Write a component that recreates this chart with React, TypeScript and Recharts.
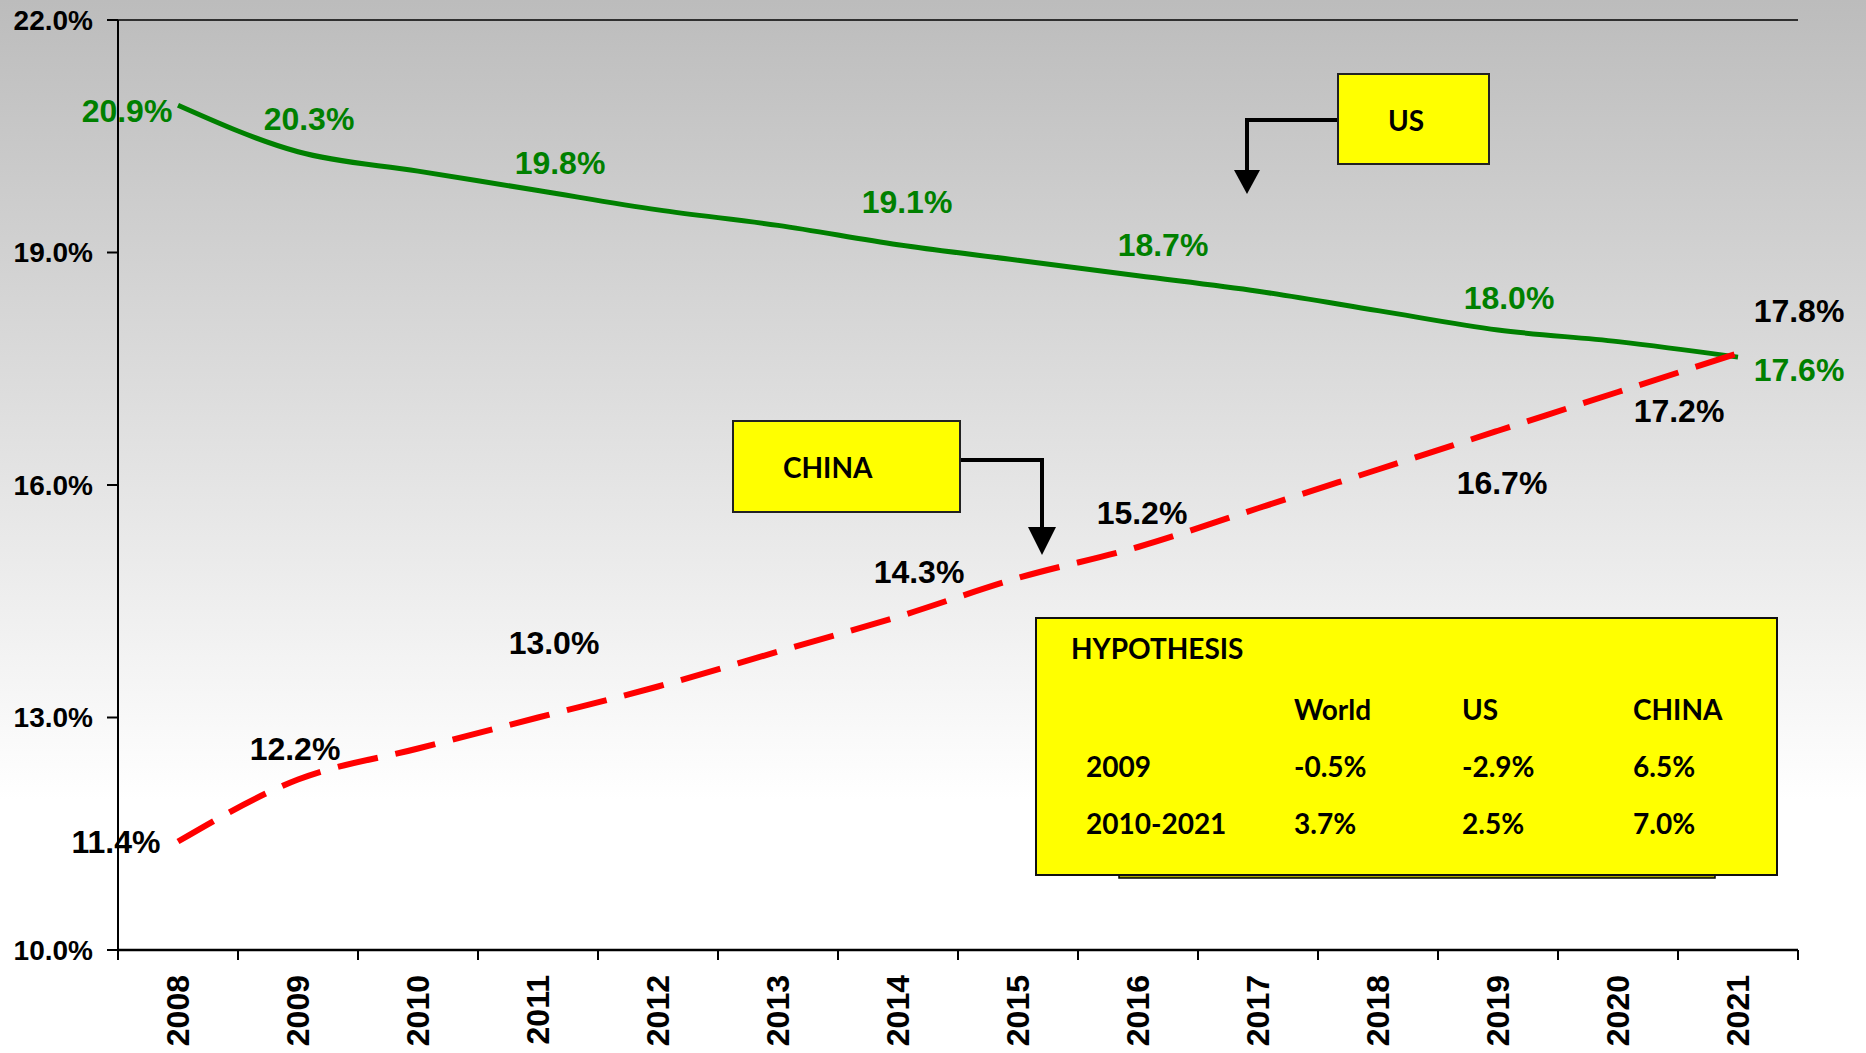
import { LineChart, Line, XAxis, YAxis, ReferenceLine, LabelList } from 'recharts';

const years = [2008, 2009, 2010, 2011, 2012, 2013, 2014, 2015, 2016, 2017, 2018, 2019, 2020, 2021];
const usShare = [20.9, 20.3, 20.05, 19.8, 19.55, 19.35, 19.1, 18.9, 18.7, 18.5, 18.25, 18.0, 17.85, 17.65];
const chinaShare = [11.4, 12.2, 12.6, 13.0, 13.4, 13.85, 14.3, 14.8, 15.2, 15.7, 16.2, 16.7, 17.2, 17.7];
const usLabels = ['20.9%', '20.3%', '', '19.8%', '', '', '19.1%', '', '18.7%', '', '', '18.0%', '', '17.6%'];
const chinaLabels = ['11.4%', '12.2%', '', '13.0%', '', '', '14.3%', '', '15.2%', '', '', '16.7%', '17.2%', '17.8%'];
const yTicks = [10, 13, 16, 19, 22];

const hypothesisCols = ['World', 'US', 'CHINA'];
const hypothesisRows = ['2009', '2010-2021'];
const hypothesisValues = [
  ['-0.5%', '-2.9%', '6.5%'],
  ['3.7%', '2.5%', '7.0%'],
];

const data = years.map((year, i) => ({ year, us: usShare[i], china: chinaShare[i] }));

const W = 1866;
const H = 1053;
const LEFT = 118;
const RIGHT = 68;
const BAND = (W - LEFT - RIGHT) / years.length;
const xBounds = [...years.map((y) => y - 0.5), years[years.length - 1] + 0.5];

const FONT = '"Liberation Sans", Arial, sans-serif';
const BOX_FONT = 'Lato, "Open Sans", sans-serif';

// label nudges (px) relative to the point, by index
const usOffsets: Record<number, [number, number]> = {
  0: [-51, 6], 1: [11, -33], 3: [22, -28], 6: [9, -43], 8: [25, -31], 11: [11, -32], 13: [61, 13],
};
const chinaOffsets: Record<number, [number, number]> = {
  0: [-62, 0], 1: [-3, -31], 3: [16, -75], 6: [21, -45], 8: [4, -34], 11: [4, 52], 12: [61, 19], 13: [61, -42],
};

const makeLabel = (labels: string[], offsets: Record<number, [number, number]>, color: string) => (props: any) => {
  const { x, y, index } = props;
  const text = labels[index];
  if (!text) return null;
  const [dx, dy] = offsets[index] || [0, -30];
  return (
    <text
      key={`l-${index}`}
      x={x + dx}
      y={y + dy}
      textAnchor="middle"
      dominantBaseline="central"
      fill={color}
      fontFamily={FONT}
      fontWeight="bold"
      fontSize={32}
    >
      {text}
    </text>
  );
};

const YearTick = (props: any) => {
  const { x, y, index } = props;
  if (index >= years.length) return null;
  return (
    <text
      transform={`translate(${x + BAND / 2},${y}) rotate(-90)`}
      textAnchor="end"
      dy="0.35em"
      fill="#000"
      fontFamily={FONT}
      fontWeight="bold"
      fontSize={32}
    >
      {years[index]}
    </text>
  );
};

const Annotations = () => (
  <svg width={W} height={H} style={{ position: 'absolute', left: 0, top: 0, pointerEvents: 'none' }}>
    {/* US callout */}
    <polyline points="1338,120 1247,120 1247,172" fill="none" stroke="#000" strokeWidth={4} />
    <polygon points="1234,170 1260,170 1247,194" fill="#000" />
    <rect x={1338} y={74} width={151} height={90} fill="#ffff00" stroke="#222" strokeWidth={2} />
    <text x={1406} y={120} textAnchor="middle" dominantBaseline="central" fontFamily={BOX_FONT} fontWeight="bold" fontSize={28}>
      US
    </text>

    {/* CHINA callout */}
    <polyline points="960,460 1042,460 1042,529" fill="none" stroke="#000" strokeWidth={4} />
    <polygon points="1028,527 1056,527 1042,555" fill="#000" />
    <rect x={733} y={421} width={227} height={91} fill="#ffff00" stroke="#222" strokeWidth={2} />
    <text x={783} y={467} dominantBaseline="central" fontFamily={BOX_FONT} fontWeight="bold" fontSize={28}>
      CHINA
    </text>

    {/* hypothesis table */}
    <rect x={1119} y={866} width={596} height={12} fill="#a8a800" stroke="#000" strokeWidth={1.5} />
    <rect x={1036} y={618} width={741} height={257} fill="#ffff00" stroke="#111" strokeWidth={2} />
    <g fontFamily={BOX_FONT} fontWeight="bold" fontSize={28} fill="#000" dominantBaseline="central">
      <text x={1071} y={648}>HYPOTHESIS</text>
      {hypothesisCols.map((c, i) => (
        <text key={c} x={[1294, 1462, 1633][i]} y={709}>{c}</text>
      ))}
      {hypothesisRows.map((r, ri) => (
        <g key={r}>
          <text x={1086} y={[766, 823][ri]}>{r}</text>
          {hypothesisValues[ri].map((v, ci) => (
            <text key={ci} x={[1294, 1462, 1633][ci]} y={[766, 823][ri]}>{v}</text>
          ))}
        </g>
      ))}
    </g>
  </svg>
);

export default function App() {
  return (
    <div
      style={{
        position: 'relative',
        width: W,
        height: H,
        background: 'linear-gradient(to bottom, #bcbcbc 0%, #ffffff 76%)',
      }}
    >
      <style>{'body{margin:0}'}</style>
      <LineChart width={W} height={H} data={data} margin={{ top: 20, right: RIGHT, left: 0, bottom: 0 }}>
        <XAxis
          dataKey="year"
          type="number"
          domain={[xBounds[0], xBounds[xBounds.length - 1]]}
          ticks={xBounds}
          interval={0}
          height={103}
          tick={<YearTick />}
          tickSize={10}
          tickMargin={15}
          axisLine={{ stroke: '#000', strokeWidth: 2.5 }}
          tickLine={{ stroke: '#000', strokeWidth: 2 }}
        />
        <YAxis
          domain={[10, 22]}
          ticks={yTicks}
          interval={0}
          width={LEFT}
          tickSize={11}
          tickMargin={14}
          tickFormatter={(v: number) => `${v.toFixed(1)}%`}
          tick={{ fill: '#000', fontFamily: FONT, fontWeight: 'bold', fontSize: 28 }}
          axisLine={{ stroke: '#000', strokeWidth: 2 }}
          tickLine={{ stroke: '#000', strokeWidth: 2 }}
        />
        <YAxis
          yAxisId="frame"
          orientation="right"
          domain={[10, 22]}
          width={0}
          tick={false}
          tickLine={false}
          axisLine={{ stroke: '#000', strokeWidth: 1.5 }}
        />
        <ReferenceLine y={22} stroke="#000" strokeWidth={1.5} />
        <Line
          dataKey="us"
          type="monotone"
          stroke="#008000"
          strokeWidth={5}
          dot={false}
          activeDot={false}
          isAnimationActive={false}
        >
          <LabelList dataKey="us" content={makeLabel(usLabels, usOffsets, '#008000')} />
        </Line>
        <Line
          dataKey="china"
          type="monotone"
          stroke="#ff0000"
          strokeWidth={6}
          strokeDasharray="41 18"
          dot={false}
          activeDot={false}
          isAnimationActive={false}
        >
          <LabelList dataKey="china" content={makeLabel(chinaLabels, chinaOffsets, '#000')} />
        </Line>
      </LineChart>
      <Annotations />
    </div>
  );
}
